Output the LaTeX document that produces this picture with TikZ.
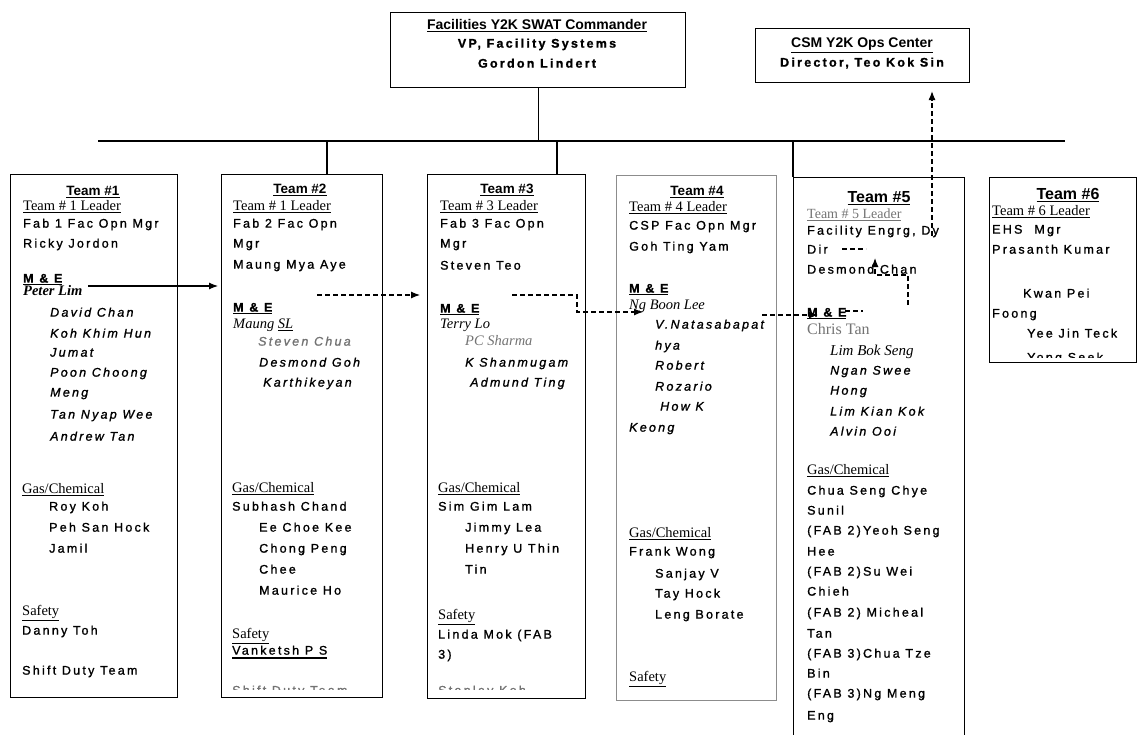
\documentclass[tikz,border=0pt]{standalone}
\usepackage{fontspec}
\setmainfont{Liberation Sans}[LetterSpace=18, FakeBold=1.2]
\newfontfamily\serifx{Liberation Serif}
\newfontfamily\headx{Liberation Sans}
\usetikzlibrary{arrows.meta,calc}

\begin{document}
\begin{tikzpicture}[x=1pt,y=-1pt,
  box/.style={draw, line width=1.1pt, inner sep=0pt, anchor=north west},
  nm/.style={anchor=mid west, inner sep=0pt, font=\fontsize{12.5}{12.5}\selectfont},
  nmi/.style={nm, font=\fontsize{12.5}{12.5}\selectfont\itshape},
  me/.style={nm, font=\bfseries\fontsize{12.5}{12.5}\selectfont},
  sr/.style={anchor=mid west, inner sep=0pt, font=\serifx\fontsize{14.5}{14.5}\selectfont},
  sri/.style={sr, font=\serifx\fontsize{14.5}{14.5}\selectfont\itshape},
  srbi/.style={sr, font=\serifx\fontsize{14.5}{14.5}\selectfont\bfseries\itshape},
  hd/.style={anchor=mid, inner sep=0pt, font=\headx\bfseries\fontsize{13.5}{13.5}\selectfont},
  hdbig/.style={anchor=mid, inner sep=0pt, font=\headx\bfseries\fontsize{16}{16}\selectfont},
  top/.style={anchor=mid, inner sep=0pt, font=\bfseries\fontsize{12.5}{12.5}\selectfont},
  faint/.style={text=black!55},
  link/.style={line width=1.1pt},
  dsh/.style={line width=1.1pt, dash pattern=on 5pt off 3pt},
  tip/.style={-{Latex[length=9pt,width=7pt]}}
]
\useasboundingbox (0,0) rectangle (1139,735);
\clip (0,0) rectangle (1139,735);

% ---------------- top boxes ----------------
\node[box, minimum width=295pt, minimum height=75pt] (cmd) at (390,12) {};
\node[hd, font=\headx\bfseries\fontsize{14}{14}\selectfont] (cmdA) at (537,27) {\underline{Facilities Y2K SWAT Commander}};
\node[top] (cmdB) at (537,45) {VP, Facility Systems};
\node[top] (cmdC) at (537,65) {Gordon Lindert};

\node[box, minimum width=214pt, minimum height=54pt] (csm) at (755,28) {};
\node[hd, font=\headx\bfseries\fontsize{14}{14}\selectfont] (csmA) at (862,45) {\underline{CSM Y2K Ops Center}};
\node[top] (csmB) at (862,64) {Director, Teo Kok Sin};

% ---------------- team boxes ----------------
\node[box, minimum width=167pt, minimum height=523pt] (t1) at (10,174) {};
\node[box, minimum width=161pt, minimum height=523pt] (t2) at (221,174) {};
\node[box, minimum width=158pt, minimum height=524pt] (t3) at (427,174) {};
\node[box, draw=black!45, line width=0.8pt, minimum width=160pt, minimum height=525pt] (t4) at (616,175) {};
\node[box, minimum width=171pt, minimum height=600pt] (t5) at (793,177) {};
\node[box, minimum width=147pt, minimum height=185pt] (t6) at (989,177) {};

% ---------------- reporting lines ----------------
\coordinate (busL) at (98,141);
\coordinate (busR) at (1065,141);
\draw[link] (busL) -- (busR);
\draw[link] (cmd.south) -- (cmd.south |- busL);
\coordinate (d2) at (327,141);
\coordinate (d3) at (557,141);
\draw[link] (d2) -- (d2 |- t2.north);
\draw[link] (d3) -- (d3 |- t3.north);
\draw[link] (t5.north west |- busL) -- (t5.north west);

% ---------------- Team 1 ----------------
\node[hd] (t1h) at (93,193) {\underline{Team \#1}};
\node[sr] (t1l) at (23,208) {\underline{Team \# 1 Leader}};
\node[nm] (t1a) at (23,225) {Fab 1 Fac Opn Mgr};
\node[nm] (t1b) at (23,245) {Ricky Jordon};
\node[me] (t1me) at (23,280) {\underline{M \& E}};
\node[srbi] (t1c) at (23,293) {Peter Lim};
\node[nmi] (t1d) at (50,314) {David Chan};
\node[nmi] (t1e) at (50,335) {Koh Khim Hun};
\node[nmi] (t1f) at (50,354) {Jumat};
\node[nmi] (t1g) at (50,374) {Poon Choong};
\node[nmi] (t1i) at (50,394) {Meng};
\node[nmi] (t1j) at (50,416) {Tan Nyap Wee};
\node[nmi] (t1k) at (50,438) {Andrew Tan};
\node[sr] (t1gc) at (22,491) {\underline{Gas/Chemical}};
\node[nm] (t1m) at (49,508) {Roy Koh};
\node[nm] (t1n) at (49,529) {Peh San Hock};
\node[nm] (t1o) at (49,550) {Jamil};
\node[sr] (t1s) at (22,613) {\underline{Safety}};
\node[nm] (t1p) at (22,632) {Danny Toh};
\node[nm] (t1q) at (22,672) {Shift Duty Team};

% ---------------- Team 2 ----------------
\node[hd] (t2h) at (300,191) {\underline{Team \#2}};
\node[sr] (t2l) at (233,208) {\underline{Team \# 1 Leader}};
\node[nm] (t2a) at (233,225) {Fab 2 Fac Opn};
\node[nm] (t2b) at (233,245) {Mgr};
\node[nm] (t2c) at (233,266) {Maung Mya Aye};
\node[me] (t2me) at (233,309) {\underline{M \& E}};
\node[sri] (t2d) at (233,326) {Maung \underline{SL}};
\node[nmi, faint] (t2e) at (258,343) {Steven Chua};
\node[nmi] (t2f) at (259,364) {Desmond Goh};
\node[nmi] (t2g) at (263,384) {Karthikeyan};
\node[sr] (t2gc) at (232,490) {\underline{Gas/Chemical}};
\node[nm] (t2i) at (232,508) {Subhash Chand};
\node[nm] (t2j) at (259,529) {Ee Choe Kee};
\node[nm] (t2k) at (259,550) {Chong Peng};
\node[nm] (t2m) at (259,571) {Chee};
\node[nm] (t2n) at (259,592) {Maurice Ho};
\node[sr] (t2s) at (232,636) {\underline{Safety}};
\node[nm] (t2o) at (232,652) {Vanketsh P S};
\draw[line width=1.4pt] ([yshift=-3pt]t2o.south west) -- ([yshift=-3pt]t2o.south east);
\begin{scope}
  \clip (222,600) rectangle (381,689);
  \node[nm, faint] (t2p) at (232,692) {Shift Duty Team};
\end{scope}

% ---------------- Team 3 ----------------
\node[hd] (t3h) at (507,191) {\underline{Team \#3}};
\node[sr] (t3l) at (440,208) {\underline{Team \# 3 Leader}};
\node[nm] (t3a) at (440,225) {Fab 3 Fac Opn};
\node[nm] (t3b) at (440,245) {Mgr};
\node[nm] (t3c) at (440,267) {Steven Teo};
\node[me] (t3me) at (440,310) {\underline{M \& E}};
\node[sri] (t3d) at (440,326) {Terry Lo};
\node[sri, faint] (t3e) at (465,343) {PC Sharma};
\node[nmi] (t3f) at (465,364) {K Shanmugam};
\node[nmi] (t3g) at (470,384) {Admund Ting};
\node[sr] (t3gc) at (438,490) {\underline{Gas/Chemical}};
\node[nm] (t3i) at (438,508) {Sim Gim Lam};
\node[nm] (t3j) at (465,529) {Jimmy Lea};
\node[nm] (t3k) at (465,550) {Henry U Thin};
\node[nm] (t3m) at (465,571) {Tin};
\node[sr] (t3s) at (438,617) {\underline{Safety}};
\node[nm] (t3n) at (438,636) {Linda Mok (FAB};
\node[nm] (t3o) at (438,656) {3)};
\begin{scope}
  \clip (428,600) rectangle (584,689);
  \node[nm, faint] (t3p) at (438,692) {Stanley Koh};
\end{scope}

% ---------------- Team 4 ----------------
\node[hd] (t4h) at (697,193) {\underline{Team \#4}};
\node[sr] (t4l) at (629,209) {\underline{Team \# 4 Leader}};
\node[nm] (t4a) at (629,227) {CSP Fac Opn Mgr};
\node[nm] (t4b) at (629,248) {Goh Ting Yam};
\node[me] (t4me) at (629,290) {\underline{M \& E}};
\node[sri] (t4c) at (629,307) {Ng Boon Lee};
\node[nmi] (t4d) at (655,326) {V.Natasabapat};
\node[nmi] (t4e) at (655,347) {hya};
\node[nmi] (t4f) at (655,367) {Robert};
\node[nmi] (t4g) at (655,388) {Rozario};
\node[nmi] (t4i) at (660,408) {How K};
\node[nmi] (t4j) at (629,429) {Keong};
\node[sr] (t4gc) at (629,535) {\underline{Gas/Chemical}};
\node[nm] (t4k) at (629,553) {Frank Wong};
\node[nm] (t4m) at (655,575) {Sanjay V};
\node[nm] (t4n) at (655,595) {Tay Hock};
\node[nm] (t4o) at (655,616) {Leng Borate};
\node[sr] (t4s) at (629,679) {\underline{Safety}};

% ---------------- Team 5 ----------------
\node[hdbig] (t5h) at (879,200) {\underline{Team \#5}};
\node[sr, faint, font=\serifx\fontsize{14}{14}\selectfont] (t5l) at (807,216) {\underline{Team \# 5 Leader}};
\node[nm] (t5a) at (807,232) {Facility Engrg, Dy};
\node[nm] (t5b) at (807,251) {Dir};
\node[nm] (t5c) at (807,271) {Desmond Chan};
\node[me] (t5me) at (807,314) {\underline{M \& E}};
\node[sr, faint, font=\serifx\fontsize{16}{16}\selectfont] (t5d) at (807,332) {Chris Tan};
\node[sri, font=\serifx\fontsize{15}{15}\selectfont\itshape] (t5e) at (830,353) {Lim Bok Seng};
\node[nmi] (t5f) at (830,372) {Ngan Swee};
\node[nmi] (t5g) at (830,392) {Hong};
\node[nmi] (t5i) at (830,413) {Lim Kian Kok};
\node[nmi] (t5j) at (830,433) {Alvin Ooi};
\node[sr] (t5gc) at (807,472) {\underline{Gas/Chemical}};
\node[nm] (t5k) at (807,492) {Chua Seng Chye};
\node[nm] (t5m) at (807,512) {Sunil};
\node[nm] (t5n) at (807,532) {(FAB 2)Yeoh Seng};
\node[nm] (t5o) at (807,553) {Hee};
\node[nm] (t5p) at (807,573) {(FAB 2)Su Wei};
\node[nm] (t5q) at (807,593) {Chieh};
\node[nm] (t5r) at (807,614) {(FAB 2) Micheal};
\node[nm] (t5t) at (807,635) {Tan};
\node[nm] (t5u) at (807,655) {(FAB 3)Chua Tze};
\node[nm] (t5v) at (807,675) {Bin};
\node[nm] (t5w) at (807,695) {(FAB 3)Ng Meng};
\node[nm] (t5x) at (807,717) {Eng};

% ---------------- Team 6 ----------------
\node[hdbig] (t6h) at (1068,197) {\underline{Team \#6}};
\node[sr] (t6l) at (992,213) {\underline{Team \# 6 Leader}};
\node[nm] (t6a) at (992,231) {EHS\hspace{12pt}Mgr};
\node[nm] (t6b) at (992,251) {Prasanth Kumar};
\node[nm] (t6c) at (1023,295) {Kwan Pei};
\node[nm] (t6d) at (992,315) {Foong};
\node[nm] (t6e) at (1027,335) {Yee Jin Teck};
\begin{scope}
  \clip (990,300) rectangle (1135,357);
  \node[nm] (t6f) at (1027,359) {Yong Seek};
\end{scope}

% ---------------- M & E hand-over chain ----------------
\coordinate (m1s) at (88,286);
\coordinate (m1e) at (218,286);
\draw[link, tip] (m1s) -- (m1e);

\coordinate (m2s) at (317,295);
\coordinate (m2e) at (420,295);
\draw[dsh, tip] (m2s) -- (m2e);

\coordinate (m3s) at (512,295);
\coordinate (m3k) at (577,295);
\coordinate (m3e) at (643,312);
\draw[dsh, tip] (m3s) -- (m3k) |- (m3e);

\coordinate (m4s) at (762,315);
\coordinate (m4e) at (818,315);
\draw[dsh, tip] (m4s) -- (m4e);

\coordinate (m5a) at (845,311);
\coordinate (m5b) at (863,311);
\draw[dsh] (m5a) -- (m5b);

\coordinate (m6s) at (908,305);
\coordinate (m6k) at (875,275);
\coordinate (m6e) at (875,258);
\draw[dsh, tip] (m6s) |- (m6k) -- (m6e);

\coordinate (m7a) at (842,249);
\coordinate (m7b) at (866,249);
\draw[dsh] (m7a) -- (m7b);

\coordinate (m8s) at (932,236);
\coordinate (m8e) at ($(csm.south west)+(177,8)$);
\draw[dsh, tip] (m8s) -- (m8e);
\end{tikzpicture}
\end{document}
